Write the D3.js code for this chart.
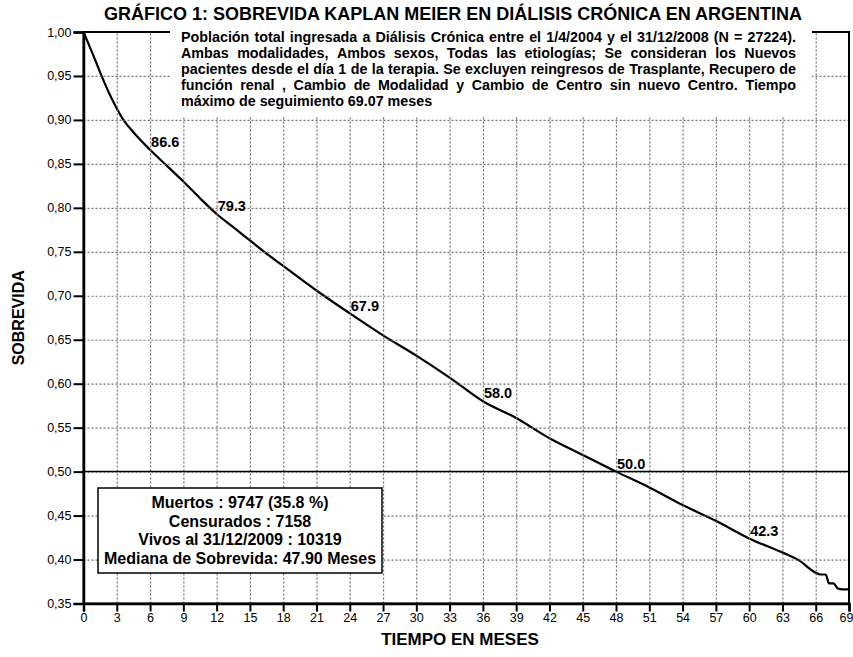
<!DOCTYPE html>
<html>
<head>
<meta charset="utf-8">
<script src="https://cdn.jsdelivr.net/npm/d3@7"></script>
<style>
	body { margin: 0; background: #fff; }
	svg { font-family: "Liberation Sans", Arial, sans-serif; }
</style>
</head>
<body>
<div id="chart"></div>
<script>
// curve (months, survival)
var months = [0, 0.8, 1.6, 2.4, 3, 3.6, 4.5, 6, 7.5, 9, 10.5, 12, 13.5, 15, 16.5, 18, 21, 24, 27, 30, 33, 36, 39, 42, 45, 48, 51, 54, 57, 60, 63, 64.5, 66, 66.4, 66.9, 67.2, 67.6, 68.0, 68.4, 69.07];
var survival = [1, 0.976, 0.951, 0.928, 0.913, 0.900, 0.886, 0.866, 0.848, 0.830, 0.811, 0.793, 0.778, 0.763, 0.748, 0.734, 0.706, 0.680, 0.655, 0.632, 0.607, 0.580, 0.561, 0.538, 0.519, 0.500, 0.482, 0.462, 0.444, 0.424, 0.408, 0.399, 0.385, 0.383, 0.383, 0.373, 0.373, 0.367, 0.366, 0.366];

var labelMonths = [6, 12, 24, 36, 48, 60];
var labelTexts = ["86.6", "79.3", "67.9", "58.0", "50.0", "42.3"];

var xTicks = [0, 3, 6, 9, 12, 15, 18, 21, 24, 27, 30, 33, 36, 39, 42, 45, 48, 51, 54, 57, 60, 63, 66, 69];
var yTicks = [0.35, 0.40, 0.45, 0.50, 0.55, 0.60, 0.65, 0.70, 0.75, 0.80, 0.85, 0.90, 0.95, 1.00];
var medianLevel = 0.5;

var title = "GRÁFICO 1: SOBREVIDA KAPLAN MEIER EN DIÁLISIS CRÓNICA EN ARGENTINA";
var noteLines = [
	"Población total ingresada a Diálisis Crónica entre el 1/4/2004 y el 31/12/2008 (N = 27224).",
	"Ambas modalidades, Ambos sexos, Todas las etiologías; Se consideran los Nuevos",
	"pacientes desde el día 1 de la terapia. Se excluyen reingresos de Trasplante, Recupero de",
	"función renal , Cambio de Modalidad y Cambio de Centro sin nuevo Centro. Tiempo",
	"máximo de seguimiento 69.07 meses"
];
var boxLines = [
	"Muertos : 9747 (35.8 %)",
	"Censurados : 7158",
	"Vivos al 31/12/2009 : 10319",
	"Mediana de Sobrevida: 47.90 Meses"
];

var width = 853, height = 657;
var plot = {left: 83.5, right: 849, top: 32, bottom: 603.5};

var svg = d3.select("#chart").append("svg")
	.attr("width", width)
	.attr("height", height);

var x = d3.scaleLinear()
	.domain([0, 69])
	.range([plot.left, plot.right]);

var y = d3.scaleLinear()
	.domain([0.35, 1.00])
	.range([plot.bottom, plot.top]);

var comma = d3.formatLocale({decimal: ",", thousands: ".", grouping: [3], currency: ["$", ""]}).format(".2f");

// survival curve
var line = d3.line()
	.x(function(d) { return x(d[0]); })
	.y(function(d) { return y(d[1]); })
	.curve(d3.curveMonotoneX);

svg.append("path")
	.datum(d3.zip(months, survival))
	.attr("d", line)
	.attr("fill", "none")
	.attr("stroke", "#000")
	.attr("stroke-width", 2.2)
	.attr("stroke-linejoin", "round");

// grid via axes with full-length ticks (dotted, grey)
var xGrid = d3.axisBottom(x).tickValues(xTicks.slice(1, -1)).tickSize(-(plot.bottom - plot.top)).tickFormat("");
var yGrid = d3.axisLeft(y).tickValues(yTicks.slice(1, -1)).tickSize(-(plot.right - plot.left)).tickFormat("");

var gxGrid = svg.append("g")
	.attr("class", "xgrid")
	.attr("transform", "translate(0," + plot.bottom + ")")
	.call(xGrid);
var gyGrid = svg.append("g")
	.attr("class", "ygrid")
	.attr("transform", "translate(" + plot.left + ",0)")
	.call(yGrid);

[gxGrid, gyGrid].forEach(function(g) {
	g.select(".domain").remove();
	g.selectAll(".tick line")
		.attr("stroke", "#707070")
		.attr("stroke-width", 1.2)
		.attr("stroke-dasharray", "2,2");
});

// frame
svg.append("rect")
	.attr("x", plot.left)
	.attr("y", plot.top)
	.attr("width", plot.right - plot.left)
	.attr("height", plot.bottom - plot.top)
	.attr("fill", "none")
	.attr("stroke", "#000")
	.attr("stroke-width", 2);

// axes
var xAxis = d3.axisBottom(x).tickValues(xTicks).tickSize(8).tickPadding(2).tickFormat(d3.format("d"));
var yAxis = d3.axisLeft(y).tickValues(yTicks).tickSize(10).tickPadding(2).tickFormat(comma);

var gx = svg.append("g")
	.attr("transform", "translate(0," + plot.bottom + ")")
	.call(xAxis);
var gy = svg.append("g")
	.attr("transform", "translate(" + plot.left + ",0)")
	.call(yAxis);

[gx, gy].forEach(function(g) {
	g.select(".domain").attr("stroke", "#000").attr("stroke-width", 2.5);
	g.selectAll(".tick line").attr("stroke", "#000").attr("stroke-width", 2);
	g.selectAll(".tick text")
		.attr("font-family", "'Liberation Sans', Arial, sans-serif")
		.attr("font-size", "12.5px")
		.attr("fill", "#000");
});
// last label sits against the right edge
gx.selectAll(".tick text").filter(function(d) { return d == 69; })
	.attr("text-anchor", "end")
	.attr("dx", 4);

// median line
svg.append("line")
	.attr("x1", plot.left)
	.attr("x2", plot.right)
	.attr("y1", y(medianLevel))
	.attr("y2", y(medianLevel))
	.attr("stroke", "#000")
	.attr("stroke-width", 1.5);

// point labels
svg.append("g")
	.selectAll("text")
	.data(labelMonths)
	.enter().append("text")
	.attr("x", function(d) { return x(d) + 1; })
	.attr("y", function(d, i) { return y(+labelTexts[i] / 100) - 3; })
	.attr("font-size", "14.5px")
	.attr("font-weight", "bold")
	.text(function(d, i) { return labelTexts[i]; });

// note block with white background
svg.append("rect")
	.attr("x", 170)
	.attr("y", 25)
	.attr("width", 642)
	.attr("height", 92)
	.attr("fill", "#fff");

var noteLeft = 181, noteWidth = 615;
var note = svg.append("g")
	.attr("font-size", "14.3px")
	.attr("font-weight", "bold");

noteLines.forEach(function(str, i) {
	var t = note.append("text").attr("y", 42 + i * 16);
	if (i == noteLines.length - 1) {
		t.attr("x", noteLeft).text(str);
		return;
	}
	var words = str.split(" ");
	var spans = words.map(function(w) { return t.append("tspan").text(w); });
	var total = 0;
	var lens = spans.map(function(s) { var l = s.node().getComputedTextLength(); total += l; return l; });
	var gap = (noteWidth - total) / (words.length - 1);
	var pos = noteLeft;
	spans.forEach(function(s, j) {
		s.attr("x", pos);
		pos += lens[j] + gap;
	});
});

// summary box
svg.append("rect")
	.attr("x", 98)
	.attr("y", 488)
	.attr("width", 284)
	.attr("height", 85)
	.attr("fill", "#fff")
	.attr("stroke", "#000")
	.attr("stroke-width", 1.5);

svg.append("g")
	.selectAll("text")
	.data(boxLines)
	.enter().append("text")
	.attr("x", 240)
	.attr("y", function(d, i) { return 508 + i * 18.7; })
	.attr("text-anchor", "middle")
	.attr("font-size", "16px")
	.attr("font-weight", "bold")
	.text(function(d) { return d; });

// titles
svg.append("text")
	.attr("x", 453)
	.attr("y", 20)
	.attr("text-anchor", "middle")
	.attr("font-size", "18px")
	.attr("font-weight", "bold")
	.text(title);

svg.append("text")
	.attr("x", 460)
	.attr("y", 645)
	.attr("text-anchor", "middle")
	.attr("font-size", "17px")
	.attr("font-weight", "bold")
	.text("TIEMPO EN MESES");

svg.append("text")
	.attr("transform", "translate(24," + ((plot.top + plot.bottom) / 2) + ") rotate(-90)")
	.attr("text-anchor", "middle")
	.attr("font-size", "16px")
	.attr("font-weight", "bold")
	.text("SOBREVIDA");
</script>
</body>
</html>
